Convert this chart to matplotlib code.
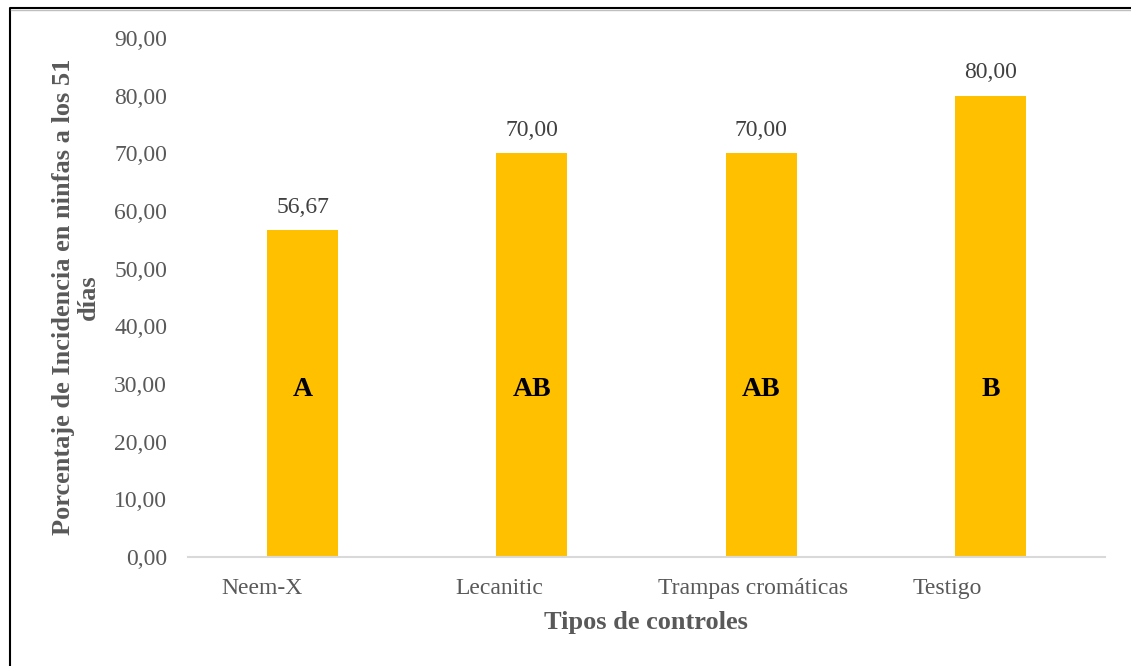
import matplotlib
matplotlib.use("Agg")
import matplotlib.pyplot as plt
import matplotlib.transforms as mtransforms
from matplotlib.lines import Line2D

plt.rcParams['font.family'] = ['Liberation Serif', 'DejaVu Serif']

categorias = ["Neem-X", "Lecanitic", "Trampas cromáticas", "Testigo"]
incidencia = [56.67, 70.00, 70.00, 80.00]
letras = ["A", "AB", "AB", "B"]
yticks = [0, 10, 20, 30, 40, 50, 60, 70, 80, 90]

W, H = 1131, 666
fig = plt.figure(figsize=(W / 100, H / 100), dpi=100)
ax = fig.add_axes([188 / W, 1 - 557 / H, (1105 - 188) / W, (557 - 38) / H])

x = range(len(categorias))
bars = ax.bar(x, incidencia, width=0.31, color="#FFC000", zorder=2)

# etiquetas de valor encima de cada barra
for xi, v in zip(x, incidencia):
    ax.annotate(f"{v:.2f}".replace(".", ","), (xi, v), xytext=(0, 9),
                textcoords="offset points", ha="center", va="bottom",
                fontsize=17, color="#404040")

# letras de significancia
for xi, l in zip(x, letras):
    ax.text(xi, 29, l, ha="center", va="center", fontsize=20,
            fontweight="bold", color="black")

ax.set_xlim(-0.5, 3.5)
ax.set_ylim(0, 90)
ax.set_yticks(yticks)
ax.set_yticklabels([f"{t:.2f}".replace(".", ",") for t in yticks])
ax.set_xticks(list(x))
ax.set_xticklabels(categorias)
ax.tick_params(axis="both", length=0, labelsize=17, labelcolor="#595959")
ax.tick_params(axis="y", pad=15)
ax.tick_params(axis="x", pad=15)

# desplazamiento horizontal de las etiquetas de categoría
desplaz = [-41, -33, -8, -43]
for lab, dx in zip(ax.get_xticklabels(), desplaz):
    off = mtransforms.ScaledTranslation(dx / 100, 0, fig.dpi_scale_trans)
    lab.set_transform(lab.get_transform() + off)

for s in ["top", "right", "left"]:
    ax.spines[s].set_visible(False)
ax.spines["bottom"].set_color("#D9D9D9")
ax.spines["bottom"].set_linewidth(1.5)

fig.text(646 / W, 1 - 623 / H, "Tipos de controles", ha="center", va="center",
         fontsize=19, fontweight="bold", color="#595959")
fig.text(76 / W, 1 - 297 / H, "Porcentaje de Incidencia en ninfas a los 51\ndías",
         rotation=90, ha="center", va="center", multialignment="center",
         fontsize=19, fontweight="bold", color="#595959", linespacing=1.1)

# marco exterior
fig.add_artist(Line2D([10 / W, 10 / W, 1], [0, 1 - 8 / H, 1 - 8 / H],
                      transform=fig.transFigure, color="black", lw=1.5))
fig.add_artist(Line2D([11 / W, 1], [1 - 10 / H, 1 - 10 / H],
                      transform=fig.transFigure, color="#BFBFBF", lw=1))

fig.savefig("out.png", dpi=100)
